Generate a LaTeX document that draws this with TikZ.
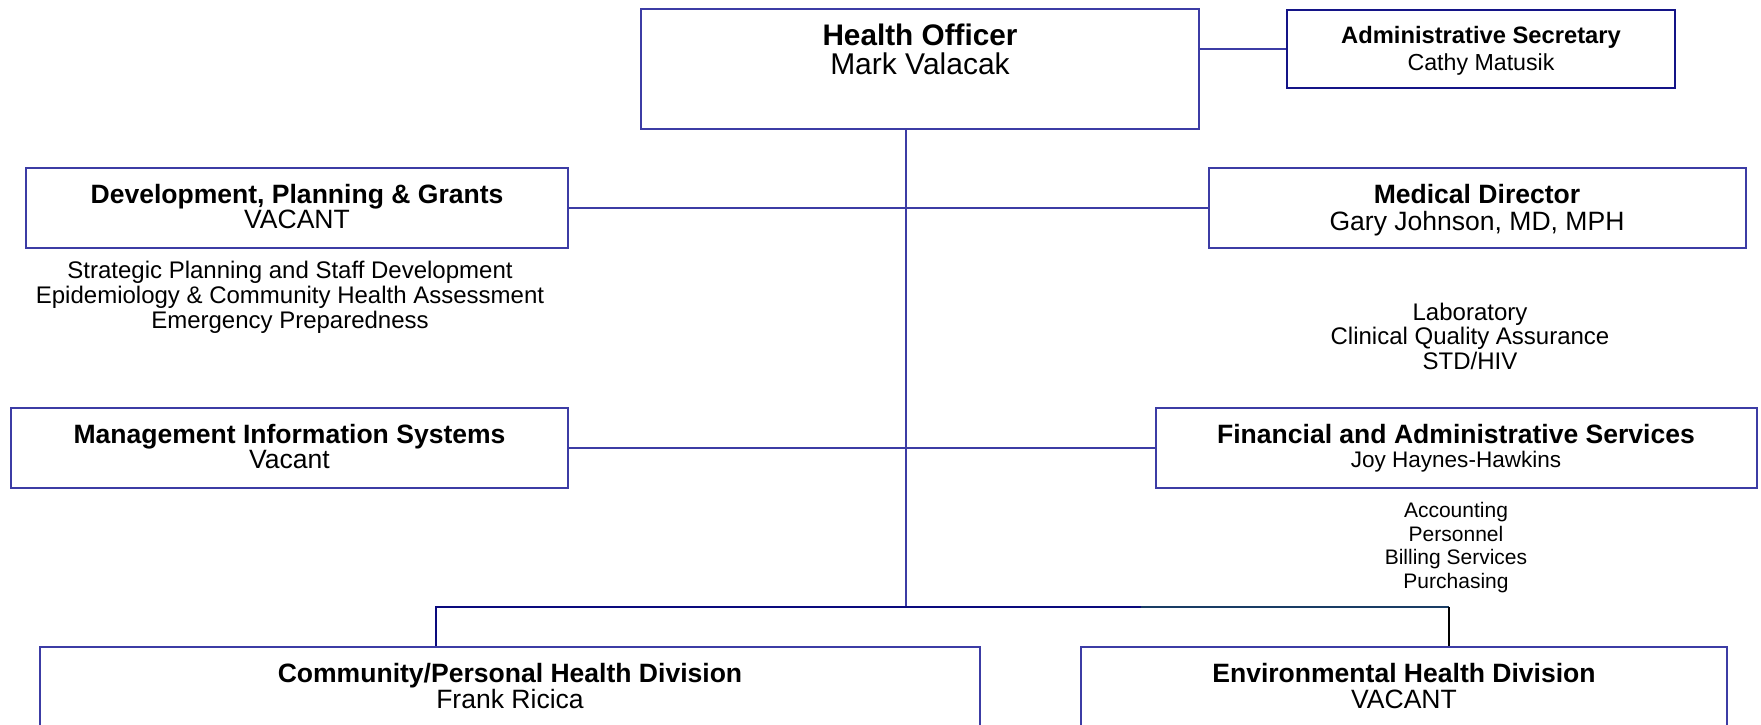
\documentclass[tikz,border=0pt]{standalone}
\usepackage{fontspec}
\setmainfont{Liberation Sans}
\usetikzlibrary{fit}
\definecolor{boxc}{RGB}{60,60,165}
\definecolor{admc}{RGB}{20,20,135}
\definecolor{busc}{RGB}{10,10,125}
\definecolor{busd}{RGB}{25,60,100}
\begin{document}
\begin{tikzpicture}[x=0.75pt,y=-0.75pt,
  box/.style={draw=boxc, line width=1.3pt, inner sep=0pt},
  admbox/.style={draw=admc, line width=1.3pt, inner sep=0pt},
  conn/.style={draw=boxc, line width=1.3pt},
  busline/.style={draw=busc, line width=1.3pt},
  busline2/.style={draw=busd, line width=1.3pt},
  dropline/.style={draw=black, line width=1pt},
  txt/.style={anchor=base, inner sep=0pt, text=black},
  bigt/.style={txt, font=\fontsize{22.3}{25}\selectfont\bfseries},
  bign/.style={txt, font=\fontsize{22.5}{25}\selectfont},
  ttl/.style={txt, font=\fontsize{19.9}{23}\selectfont\bfseries},
  nm/.style={txt, font=\fontsize{19.9}{23}\selectfont},
  sub/.style={txt, font=\fontsize{18}{21}\selectfont},
  smn/.style={txt, font=\fontsize{16.9}{20}\selectfont},
  sml/.style={txt, font=\fontsize{15.75}{19}\selectfont},
  admt/.style={txt, font=\fontsize{17.8}{20}\selectfont\bfseries},
  admn/.style={txt, font=\fontsize{17.4}{20}\selectfont}]
\useasboundingbox (0,0) rectangle (1761,725);
\clip (0,0) rectangle (1761,725);

% boxes
\node[box, fit={(641,9) (1199,129)}] (ho) {};
\node[admbox, fit={(1287,10) (1675,88)}] (adm) {};
\node[box, fit={(26,168) (568,248)}] (dev) {};
\node[box, fit={(1209,168) (1746,248)}] (md) {};
\node[box, fit={(11,408) (568,488)}] (mis) {};
\node[box, fit={(1156,408) (1757,488)}] (fin) {};
\node[box, fit={(40,647) (980,800)}] (cph) {};
\node[box, fit={(1081,647) (1727,800)}] (env) {};

% connector coordinates
\coordinate (trunkX) at (906,0);
\coordinate (busM) at (906,607);
\coordinate (busL) at (436,607);
\coordinate (busK) at (1141,607);
\coordinate (busR) at (1449,607);

% connectors
\draw[conn] (ho.east |- adm.west) -- (adm.west);
\draw[conn] (ho.south -| trunkX) -- (busM);
\draw[conn] (dev.east) -- (md.west);
\draw[conn] (mis.east) -- (fin.west);
\draw[busline] (cph.north -| busL) -- (busL) -- (busK);
\draw[busline2] (busK) -- (busR);
\draw[dropline] (busR) -- (env.north -| busR);

% texts
\node[bigt] (hoT) at (920,45) {Health Officer};
\node[bign] (hoN) at (920,74) {Mark Valacak};
\node[admt] (admT) at (1481,43) {Administrative Secretary};
\node[admn] (admN) at (1481,70) {Cathy Matusik};

\node[ttl] (devT) at (297,203.5) {Development, Planning \& Grants};
\node[nm] (devN) at (297,228.5) {VACANT};
\node[sub] (devS1) at (290,278.6) {Strategic Planning and Staff Development};
\node[sub] (devS2) at (290,303.6) {Epidemiology \& Community Health Assessment};
\node[sub] (devS3) at (290,328.6) {Emergency Preparedness};

\node[ttl] (mdT) at (1477,203.5) {Medical Director};
\node[nm] (mdN) at (1477,230.5) {Gary Johnson, MD, MPH};
\node[sub] (mdS1) at (1470,320.6) {Laboratory};
\node[sub] (mdS2) at (1470,344.6) {Clinical Quality Assurance};
\node[sub] (mdS3) at (1470,369.6) {STD/HIV};

\node[ttl] (misT) at (289.5,443.5) {Management Information Systems};
\node[nm] (misN) at (289.5,468.5) {Vacant};

\node[ttl] (finT) at (1456,443.5) {Financial and Administrative Services};
\node[smn] (finN) at (1456,467) {Joy Haynes-Hawkins};
\node[sml] (finS1) at (1456,517.6) {Accounting};
\node[sml] (finS2) at (1456,541.6) {Personnel};
\node[sml] (finS3) at (1456,564.6) {Billing Services};
\node[sml] (finS4) at (1456,588.6) {Purchasing};

\node[ttl] (cphT) at (510,682.5) {Community/Personal Health Division};
\node[nm] (cphN) at (510,708.5) {Frank Ricica};
\node[ttl] (envT) at (1404,682.5) {Environmental Health Division};
\node[nm] (envN) at (1404,708.5) {VACANT};
\end{tikzpicture}
\end{document}
